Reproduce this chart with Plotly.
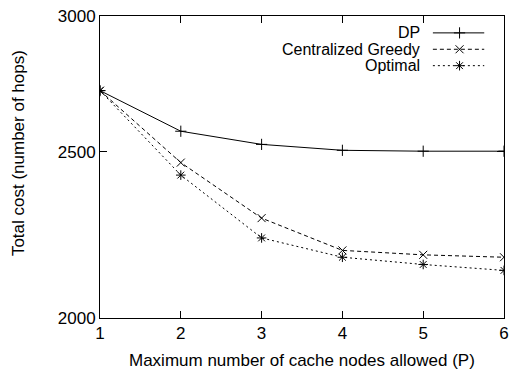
import plotly.graph_objects as go
import math

P = [1, 2, 3, 4, 5, 6]
dp = [2714, 2570, 2525, 2505, 2502, 2502]
greedy = [2714, 2464, 2287, 2190, 2177, 2170]
optimal = [2714, 2423, 2227, 2170, 2149, 2132]

series_names = ["DP", "Centralized Greedy", "Optimal"]
series_vals = [dp, greedy, optimal]
dashes = ["solid", "4px,3px", "2px,3px"]
symbols = ["cross-thin", "x-thin", "asterisk"]

FONT = dict(family="Liberation Sans, Arial, sans-serif", size=17, color="black")
LEGFONT = dict(family="Liberation Sans, Arial, sans-serif", size=16, color="black")

fig = go.Figure()
for name, vals, d, s in zip(series_names, series_vals, dashes, symbols):
    fig.add_trace(go.Scatter(
        x=P, y=vals, mode="lines+markers", name=name,
        line=dict(color="black", width=1, dash=d),
        marker=dict(symbol=s, size=8, color="black", line=dict(color="black", width=1)),
        showlegend=False,
    ))

# Legend drawn gnuplot-style (text left, sample right) on an overlay axis
L, R, T, B = 100, 509, 14, 318
W, H = R - L, B - T
def px(x):
    return (x - L) / W
def py(y):
    return (B - y) / H

leg_rows = [31, 47.5, 64]
for name, d, s, ry in zip(series_names, dashes, symbols, leg_rows):
    fig.add_trace(go.Scatter(
        x=[px(437), px(489)], y=[py(ry), py(ry)], mode="lines",
        line=dict(color="black", width=1, dash=d),
        xaxis="x2", yaxis="y2", showlegend=False, hoverinfo="skip",
    ))
    fig.add_trace(go.Scatter(
        x=[px(464)], y=[py(ry)], mode="markers",
        marker=dict(symbol=s, size=8, color="black", line=dict(color="black", width=1)),
        xaxis="x2", yaxis="y2", showlegend=False, hoverinfo="skip",
    ))
    fig.add_annotation(x=px(426), y=py(ry), xref="paper", yref="paper",
                       text=name, showarrow=False, xanchor="right", yanchor="middle",
                       font=LEGFONT)

fig.add_annotation(x=px(17), y=py(152), xref="paper", yref="paper",
                   text="Total cost (number of hops)", textangle=-90,
                   showarrow=False, xanchor="center", yanchor="middle", font=FONT)
fig.add_annotation(x=0.5, y=py(361), xref="paper", yref="paper",
                   text="Maximum number of cache nodes allowed (P)",
                   showarrow=False, xanchor="center", yanchor="middle", font=FONT)

fig.update_layout(
    width=516, height=372,
    margin=dict(l=L, r=516 - R, t=T, b=372 - B),
    paper_bgcolor="white", plot_bgcolor="white",
    font=FONT,
    xaxis=dict(range=[1, 6], tickvals=P, ticks="inside", ticklen=7, tickwidth=1,
               tickcolor="black", showline=True, linecolor="black", linewidth=1,
               mirror="allticks", showgrid=False, zeroline=False, tickfont=FONT),
    yaxis=dict(type="log", range=[math.log10(2000), math.log10(3000)],
               tickvals=[2000, 2500, 3000], ticktext=["2000", "2500", "3000"],
               ticks="inside", ticklen=7, tickwidth=1, tickcolor="black",
               showline=True, linecolor="black", linewidth=1, mirror="allticks",
               showgrid=False, zeroline=False, tickfont=FONT),
    xaxis2=dict(overlaying="x", range=[0, 1], visible=False, fixedrange=True),
    yaxis2=dict(overlaying="y", range=[0, 1], visible=False, fixedrange=True),
)

fig.write_html("out.html")
